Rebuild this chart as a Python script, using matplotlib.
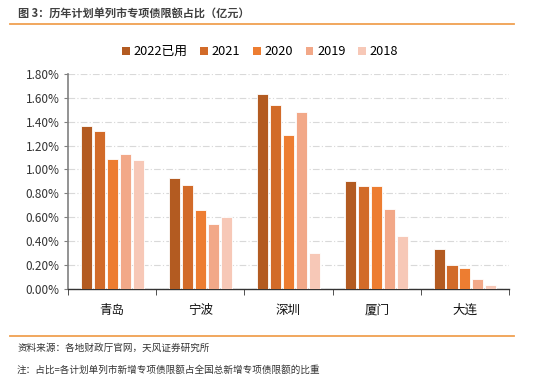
import matplotlib
matplotlib.use("Agg")
import matplotlib.pyplot as plt
import numpy as np
from matplotlib.patches import Patch
from matplotlib.lines import Line2D

plt.rcParams['font.family'] = ['Noto Sans CJK SC', 'DejaVu Sans']

cities = ["青岛", "宁波", "深圳", "厦门", "大连"]
series_names = ["2022已用", "2021", "2020", "2019", "2018"]
v2022 = [1.36, 0.93, 1.63, 0.90, 0.33]
v2021 = [1.32, 0.87, 1.54, 0.865, 0.195]
v2020 = [1.085, 0.66, 1.29, 0.86, 0.17]
v2019 = [1.13, 0.545, 1.48, 0.665, 0.085]
v2018 = [1.08, 0.60, 0.30, 0.445, 0.035]
yticks = [0.0, 0.2, 0.4, 0.6, 0.8, 1.0, 1.2, 1.4, 1.6, 1.8]
colors = ["#B35B21", "#D26B29", "#ED7D31", "#F2A888", "#F7C8B7"]

fig = plt.figure(figsize=(5.5, 3.85), dpi=100)
ax = fig.add_axes([0.1236, 0.25, 0.802, 0.558])

x = np.arange(len(cities))
series = [v2022, v2021, v2020, v2019, v2018]
pitch = 0.147
width = 0.125
for i, (vals, c, name) in enumerate(zip(series, colors, series_names)):
    ax.bar(x + (i - 2) * pitch, vals, width=width, color=c,
           edgecolor="white", linewidth=0.6, label=name, zorder=3)

ax.set_xlim(-0.5, len(cities) - 0.5)
ax.set_ylim(0, 1.8)
ax.set_yticks(yticks)
ax.set_yticklabels([f"{v:.2f}%" for v in yticks], fontsize=8.5, color="#333333")
ax.yaxis.grid(True, color="#D9D9D9", linestyle=(0, (6, 2, 1, 2)), linewidth=0.8, zorder=0)
ax.set_xticks(x)
ax.set_xticklabels(cities, fontsize=9, color="#111111")
ax.set_xticks(np.arange(-0.5, len(cities)), minor=True)
ax.tick_params(axis='x', which='major', length=0, pad=11)
ax.tick_params(axis='x', which='minor', length=4, color="#333333", direction="out")
ax.tick_params(axis='y', length=3, color="#808080", direction="out", pad=3)
for s in ["top", "right"]:
    ax.spines[s].set_visible(False)
ax.spines["left"].set_color("#808080")
ax.spines["left"].set_linewidth(1.2)
ax.spines["bottom"].set_color("#333333")
ax.spines["bottom"].set_linewidth(1.0)

handles = [Patch(facecolor=c, edgecolor="none") for c in colors]
fig.legend(handles, series_names, loc="center", bbox_to_anchor=(0.473, 0.866),
           ncol=5, frameon=False, fontsize=9.2, handlelength=0.6, handleheight=0.6,
           handletextpad=0.3, columnspacing=1.0)

fig.text(0.033, 0.962, "图 3：历年计划单列市专项债限额占比（亿元）", fontsize=8,
         fontweight="bold", color="#404040", va="center")
fig.add_artist(Line2D([0.018, 0.935], [0.937, 0.937], color="#F0A050", linewidth=1.3))
fig.add_artist(Line2D([0.018, 0.935], [0.127, 0.127], color="#F0A050", linewidth=1.3))
fig.text(0.031, 0.095, "资料来源：各地财政厅官网，天风证券研究所", fontsize=6.9,
         color="#333333", va="center")
fig.text(0.031, 0.04, "注：占比=各计划单列市新增专项债限额占全国总新增专项债限额的比重", fontsize=6.9,
         color="#333333", va="center")

fig.savefig("out.png", dpi=100)
